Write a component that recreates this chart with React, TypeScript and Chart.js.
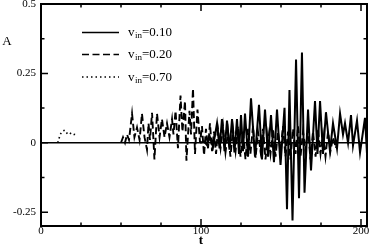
import React, { useEffect, useRef } from "react";
import { Chart, registerables } from "chart.js";

Chart.register(...registerables);

// ---- data ----
const xTickValues = [0, 100, 200];
const xMinorTicks = [25, 50, 75, 125, 150, 175];
const yTickValues = [0.5, 0.25, 0, -0.25];
const yMinorTicks = [0.375, 0.125, -0.125];

const legendLabels = ["0.10", "0.20", "0.70"];

const tZero = [0, 204];
const aZero = [0, 0];

const tSolid = [
  99.5, 101.9, 103.75, 105.6, 107.5, 110, 111.6, 113.1, 114.7, 116.25,
  117.8, 119.4, 120.9, 122.5, 123.75, 125, 126.25, 127.5, 129.4, 131.25,
  133.75, 136.25, 138.1, 140, 141.9, 143.75, 145.6, 147.5, 149.7, 152.2,
  153.75, 155.3, 157.2, 159.4, 161.25, 163.1, 164.7, 166.9, 168.75, 171.25,
  172.8, 174.4, 176.25, 178.1, 180.6, 182.5, 185, 186.9, 188.75, 190,
  191.9, 193.75, 195, 197.5, 199.4, 202.5, 203.75,
];
const aSolid = [
  0, 0.005, -0.008, 0.02, -0.015, 0.07, -0.02, 0.085, -0.03, 0.08,
  -0.025, 0.085, -0.035, 0.085, -0.04, 0.1, -0.03, 0.105, -0.05, 0.16,
  -0.05, 0.137, -0.06, 0.12, -0.05, 0.1, -0.07, 0.12, -0.08, 0.126,
  -0.24, 0.19, -0.28, 0.3, -0.2, 0.325, -0.18, 0.12, -0.1, 0.15,
  -0.04, 0.15, -0.04, 0.11, -0.03, 0.07, -0.02, 0.105, 0.03, 0.07,
  0.0, 0.1, -0.01, 0.08, -0.035, 0.09, -0.04,
];

const tDashed = [
  50, 51.25, 52.5, 53.75, 55, 56.9, 58.4, 60, 61.6, 63.1,
  64.7, 66.25, 67.2, 68.1, 69.4, 70.9, 72.5, 74.1, 75.6, 77.2,
  78.75, 80.3, 81.9, 82.8, 84.1, 85.6, 87.2, 88.4, 90, 90.9,
  92.8, 93.75, 95, 96.25, 97.8, 99.4,
  100.6, 101.9, 103.1, 104.4, 105.6, 106.9, 108.1, 109.4, 110.6, 112.2,
  113.75, 115.3, 116.9, 118.4, 120, 121.6, 123.1, 124.7, 126.25, 127.8,
  129.4, 130.9, 132.5, 134.1, 135.6, 137.2, 138.75, 140.3, 141.9, 143.4,
  145, 146.6, 148.1, 149.7, 151.25, 152.8, 154.4, 155.9, 157.5, 159.1,
  160.6, 162.2, 163.75, 165.3, 166.9, 168.4, 170, 171.6, 173.1, 174.7,
  176.25, 177.8, 179.4, 180.9, 182.5, 184.4, 185,
];
const aDashed = [
  0, 0.02, 0.0, 0.03, 0.01, 0.105, 0.02, 0.055, 0.01, 0.105,
  0.02, -0.025, 0.07, 0.01, 0.108, -0.06, 0.105, 0.02, 0.085, 0.02,
  0.07, 0.02, 0.085, 0.03, 0.115, -0.02, 0.17, 0.04, 0.15, -0.065,
  0.115, 0.03, 0.195, -0.04, 0.12, 0.0,
  0.06, -0.045, 0.05, -0.02, 0.07, -0.03, 0.04, -0.04, 0.05, -0.02,
  0.06, -0.035, 0.04, -0.05, 0.05, -0.03, 0.06, -0.05, 0.04, -0.06,
  0.05, -0.04, 0.06, -0.055, 0.04, -0.03, 0.05, -0.06, 0.03, -0.04,
  0.05, -0.05, 0.04, -0.03, 0.06, -0.05, 0.04, -0.06, 0.05, -0.04,
  0.06, -0.05, 0.04, -0.03, 0.05, -0.06, 0.04, -0.05, 0.05, -0.04,
  0.03, -0.05, 0.04, -0.03, 0.02, -0.02, 0,
];

const tDotted = [10.5, 12, 13.5, 15, 16.5, 18, 19.5, 21, 22.5];
const aDotted = [0, 0.03, 0.042, 0.045, 0.032, 0.036, 0.028, 0.03, 0.025];

const toPoints = (t: number[], a: number[]) => t.map((x, i) => ({ x, y: a[i] }));

const SERIF = "'Liberation Serif', 'Times New Roman', serif";
const DASHES: number[][] = [[], [7, 3.5], [1.5, 3]];

const framePlugin = {
  id: "framePlugin",
  afterDraw(chart: any) {
    const { ctx, chartArea } = chart;
    const { left, right, top, bottom } = chartArea;
    const xs = chart.scales.x;
    const ys = chart.scales.y;
    ctx.save();
    ctx.strokeStyle = "#000";
    ctx.lineWidth = 1.5;
    const drawX = (v: number, len: number) => {
      const px = xs.getPixelForValue(v);
      ctx.beginPath();
      ctx.moveTo(px, bottom);
      ctx.lineTo(px, bottom - len);
      ctx.moveTo(px, top);
      ctx.lineTo(px, top + len);
      ctx.stroke();
    };
    const drawY = (v: number, len: number) => {
      const py = ys.getPixelForValue(v);
      ctx.beginPath();
      ctx.moveTo(left, py);
      ctx.lineTo(left + len, py);
      ctx.moveTo(right, py);
      ctx.lineTo(right - len, py);
      ctx.stroke();
    };
    xTickValues.forEach((v) => drawX(v, 7));
    xMinorTicks.forEach((v) => drawX(v, 3.5));
    yTickValues.forEach((v) => drawY(v, 7));
    yMinorTicks.forEach((v) => drawY(v, 3.5));
    ctx.lineWidth = 2;
    ctx.strokeRect(left, top, right - left, bottom - top);

    ctx.fillStyle = "#000";
    ctx.textAlign = "center";
    ctx.textBaseline = "middle";
    ctx.font = `13px ${SERIF}`;
    ctx.fillText("A", 7, 42);
    ctx.font = `bold 13px ${SERIF}`;
    ctx.textBaseline = "alphabetic";
    ctx.fillText("t", xs.getPixelForValue(100), 244);

    const lx0 = left + 41;
    const lx1 = left + 78;
    const rows = [top + 28.5, top + 50.5, top + 73];
    rows.forEach((ly, i) => {
      ctx.save();
      ctx.lineWidth = 1.7;
      ctx.setLineDash(DASHES[i]);
      ctx.beginPath();
      ctx.moveTo(lx0, ly);
      ctx.lineTo(lx1, ly);
      ctx.stroke();
      ctx.restore();
      ctx.textAlign = "left";
      ctx.textBaseline = "alphabetic";
      let tx = left + 87;
      ctx.font = `13px ${SERIF}`;
      ctx.fillText("v", tx, ly + 3.5);
      tx += ctx.measureText("v").width + 0.5;
      ctx.font = `9px ${SERIF}`;
      ctx.fillText("in", tx, ly + 5.5);
      tx += ctx.measureText("in").width;
      ctx.font = `13px ${SERIF}`;
      ctx.fillText("=" + legendLabels[i], tx, ly + 3.5);
    });
    ctx.restore();
  },
};

export default function App() {
  const ref = useRef<HTMLCanvasElement | null>(null);
  useEffect(() => {
    document.body.style.margin = "0";
    if (!ref.current) return;
    const lineStyle = {
      borderColor: "#000",
      pointRadius: 0,
      fill: false,
      tension: 0,
    };
    const chart = new Chart(ref.current, {
      type: "line",
      data: {
        datasets: [
          { ...lineStyle, label: "zero", data: toPoints(tZero, aZero), borderWidth: 1.7 },
          { ...lineStyle, label: "v_in=0.70", data: toPoints(tDotted, aDotted), borderWidth: 1.6, borderDash: DASHES[2] },
          { ...lineStyle, label: "v_in=0.20", data: toPoints(tDashed, aDashed), borderWidth: 1.9, borderDash: DASHES[1] },
          { ...lineStyle, label: "v_in=0.10", data: toPoints(tSolid, aSolid), borderWidth: 2 },
        ],
      },
      options: {
        animation: false,
        responsive: true,
        maintainAspectRatio: false,
        layout: { padding: { left: 0, right: 4, top: 4, bottom: 0 } },
        plugins: { legend: { display: false }, tooltip: { enabled: false } },
        scales: {
          x: {
            type: "linear",
            min: 0,
            max: 203.75,
            grid: { display: false, drawTicks: false },
            border: { display: false },
            ticks: {
              color: "#000",
              font: { family: SERIF, size: 11 },
              padding: -1,
              maxRotation: 0,
              callback: (v: any) => String(v),
            },
            afterBuildTicks: (s: any) => {
              s.ticks = xTickValues.map((value) => ({ value }));
            },
            afterFit: (s: any) => {
              s.height = 19;
              s.paddingLeft = 0;
              s.paddingRight = 0;
            },
          },
          y: {
            type: "linear",
            min: -0.3,
            max: 0.5,
            grid: { display: false, drawTicks: false },
            border: { display: false },
            ticks: {
              color: "#000",
              font: { family: SERIF, size: 11 },
              padding: 5,
              callback: (v: any) => String(v),
            },
            afterBuildTicks: (s: any) => {
              s.ticks = yTickValues.map((value) => ({ value }));
            },
            afterFit: (s: any) => {
              s.width = 41;
              s.paddingTop = 0;
              s.paddingBottom = 0;
            },
          },
        },
      },
      plugins: [framePlugin],
    });
    return () => chart.destroy();
  }, []);
  return (
    <div style={{ width: 371, height: 245, position: "relative" }}>
      <canvas ref={ref} />
    </div>
  );
}
